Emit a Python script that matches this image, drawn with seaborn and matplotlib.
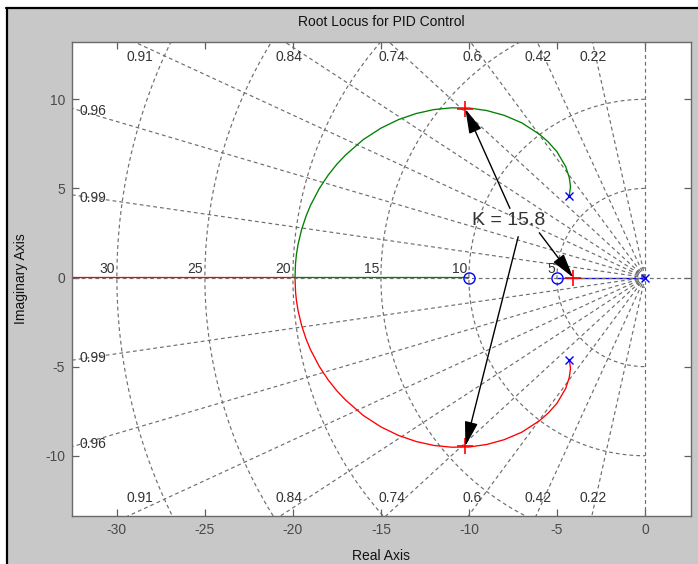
import numpy as np
import matplotlib
matplotlib.use("Agg")
import matplotlib.pyplot as plt
import seaborn as sns
import pandas as pd
from matplotlib.patches import FancyArrowPatch, Rectangle
from matplotlib.lines import Line2D

# ---------------- data ----------------
title_text = "Root Locus for PID Control"
xlabel_text = "Real Axis"
ylabel_text = "Imaginary Axis"

poles_re = [0.0, -4.3, -4.3]
poles_im = [0.0, 4.6, -4.6]
zeros_re = [-5.0, -10.0]
zeros_im = [0.0, 0.0]

# complex branch, upper half (green) and lower half (red)
upper_re = [-4.30, -4.25, -4.23, -4.25, -4.30, -4.50, -5.0, -5.5, -6.0, -7.0, -8.0,
            -9.0, -10.0, -11.0, -12.0, -13.0, -14.0, -15.0, -16.0, -17.0, -17.5, -18.0,
            -18.5, -19.0, -19.25, -19.5, -19.7, -19.8, -19.85, -19.88]
upper_im = [4.60, 4.94, 5.10, 5.26, 5.61, 6.22, 7.06, 7.61, 8.04, 8.68, 9.10,
            9.37, 9.51, 9.52, 9.42, 9.20, 8.86, 8.38, 7.74, 6.88, 6.36, 5.74,
            4.99, 4.05, 3.45, 2.71, 1.89, 1.29, 0.80, 0.0]
lower_re = [-4.30, -4.25, -4.23, -4.25, -4.30, -4.50, -5.0, -5.5, -6.0, -7.0, -8.0,
            -9.0, -10.0, -11.0, -12.0, -13.0, -14.0, -15.0, -16.0, -17.0, -17.5, -18.0,
            -18.5, -19.0, -19.25, -19.5, -19.7, -19.8, -19.85, -19.88]
lower_im = [-4.60, -4.94, -5.10, -5.26, -5.61, -6.22, -7.06, -7.61, -8.04, -8.68, -9.10,
            -9.37, -9.51, -9.52, -9.42, -9.20, -8.86, -8.38, -7.74, -6.88, -6.36, -5.74,
            -4.99, -4.05, -3.45, -2.71, -1.89, -1.29, -0.80, 0.0]

# real-axis segments
blue_re = [0.0, -5.0]
green_tail_re = [-19.88, -10.0]
red_tail_re = [-19.88, -40.0]

# gain point K = 15.8
k_text = "K = 15.8"
k_re = [-10.2, -10.2, -4.08]
k_im = [9.45, -9.45, 0.0]

# grid values
zeta_values = [0.22, 0.42, 0.6, 0.74, 0.84, 0.91, 0.96, 0.99]
zeta_labels = ["0.22", "0.42", "0.6", "0.74", "0.84", "0.91", "0.96", "0.99"]
wn_values = [5, 10, 15, 20, 25, 30]
wn_labels = ["5", "10", "15", "20", "25", "30"]
wn_small = [0.15, 0.55]

xticks = [-30, -25, -20, -15, -10, -5, 0]
yticks = [-10, -5, 0, 5, 10]
xlim = (-32.55, 2.6)
ylim = (-13.38, 13.23)

# ---------------- style ----------------
sns.set_theme(style="white")
plt.rcParams["font.family"] = ["Liberation Sans", "DejaVu Sans"]

W, H = 698, 564
fig = plt.figure(figsize=(W / 100, H / 100), dpi=100, facecolor="white")

# window-like frame: gray panel with black left/top border
fig.patches.append(Rectangle((7 / W, 0), 1 - 7 / W, 1 - 8 / H, transform=fig.transFigure,
                             facecolor="#c8c8c8", edgecolor="none", zorder=-10))
fig.lines.append(Line2D([7 / W, 7 / W], [0, 1 - 7.5 / H], transform=fig.transFigure,
                        color="black", lw=1.6, zorder=-9))
fig.lines.append(Line2D([6 / W, 1], [1 - 7.5 / H, 1 - 7.5 / H], transform=fig.transFigure,
                        color="black", lw=1.6, zorder=-9))

ax = fig.add_axes([72 / W, 1 - 516 / H, 618.7 / W, 474.3 / H])
ax.set_zorder(1)
ax.set_facecolor("white")
ax.set_xlim(*xlim)
ax.set_ylim(*ylim)

gray = "#6e6e6e"
gs = dict(color=gray, lw=0.85, ls=(0, (3.2, 2.6)), zorder=1)

# damping-ratio lines
R = 60.0
for z in zeta_values:
    s = np.sqrt(1 - z * z)
    ax.plot([0, -z * R], [0, s * R], **gs)
    ax.plot([0, -z * R], [0, -s * R], **gs)
ax.plot([0, 0], [-30, 30], **gs)

# natural-frequency semicircles
theta = np.linspace(np.pi / 2, 3 * np.pi / 2, 300)
for w in wn_values + wn_small:
    ax.plot(w * np.cos(theta), w * np.sin(theta), **gs)

# ---------------- locus branches ----------------
green_df = pd.DataFrame({"re": upper_re + green_tail_re[1:], "im": upper_im + [0.0]})
red_df = pd.DataFrame({"re": lower_re + red_tail_re[1:], "im": lower_im + [0.0]})
blue_df = pd.DataFrame({"re": blue_re, "im": [0.0, 0.0]})

sns.lineplot(data=green_df, x="re", y="im", sort=False, estimator=None,
             color="#008000", lw=0.95, ax=ax, zorder=2)
sns.lineplot(data=red_df, x="re", y="im", sort=False, estimator=None,
             color="#ff0000", lw=0.95, ax=ax, zorder=2)
sns.lineplot(data=blue_df, x="re", y="im", sort=False, estimator=None,
             color="#0000ff", lw=0.95, ax=ax, zorder=2)

# real-axis grid line drawn over the locus (as in the reference)
ax.plot([-60, 10], [0, 0], color=gray, lw=0.85, ls=(0, (3.2, 2.6)), zorder=2.5)

# poles / zeros
ax.plot(poles_re, poles_im, ls="none", marker="x", ms=5.5, mew=1.0, color="#0000ff", zorder=3)
ax.plot(zeros_re, zeros_im, ls="none", marker="o", ms=8, mew=1.0, mfc="none",
        mec="#0000ff", zorder=3)
# gain markers
ax.plot(k_re, k_im, ls="none", marker="+", ms=11, mew=1.2, color="#ff0000", zorder=3.5)

# ---------------- grid labels ----------------
lab_color = "#333333"
ytop = 13.07
for z, lab in zip(zeta_values, zeta_labels):
    s = np.sqrt(1 - z * z)
    xt = -z / s * ytop
    if xt > xlim[0] + 1.5:
        ax.text(xt, 12.37, lab, ha="center", va="center", fontsize=10, color=lab_color, zorder=4)
        ax.text(xt, -12.37, lab, ha="center", va="center", fontsize=10, color=lab_color, zorder=4)
    else:
        yl = s / z * (-xlim[0])
        ax.text(xlim[0] + 0.45, yl - 0.15, lab, ha="left", va="center", fontsize=10,
                color=lab_color, zorder=4)
        ax.text(xlim[0] + 0.45, -yl + 0.15, lab, ha="left", va="center", fontsize=10,
                color=lab_color, zorder=4)

for w, lab in zip(wn_values, wn_labels):
    ax.text(-w - 0.1, 0.47, lab, ha="right", va="center", fontsize=10, color=lab_color, zorder=4)

# ---------------- annotation ----------------
ax.text(-7.73, 3.2, k_text, ha="center", va="center", fontsize=14, color="#333333", zorder=5)
tails = [(-7.67, 3.88), (-7.2, 2.29), (-6.0, 2.51)]
for (tx, ty), hx, hy in zip(tails, k_re, k_im):
    arr = FancyArrowPatch((tx, ty), (hx, hy), arrowstyle="-|>,head_length=1.0,head_width=0.27",
                          mutation_scale=15, color="black", lw=1.0, shrinkA=0, shrinkB=0,
                          zorder=5)
    ax.add_patch(arr)

# ---------------- axes styling ----------------
ax.set_xticks(xticks)
ax.set_yticks(yticks)
ax.set_xticklabels([str(t) for t in xticks])
ax.set_yticklabels([str(t) for t in yticks])
ax.tick_params(direction="in", length=5, width=0.9, colors="#606060", labelcolor="#4a4a4a",
               labelsize=10, pad=5, top=True, right=True, bottom=True, left=True)
for sp in ax.spines.values():
    sp.set_color("#6a6a6a")
    sp.set_linewidth(1.0)
    sp.set_visible(True)

ax.set_xlabel(xlabel_text, fontsize=10, color="#111111", va="center")
ax.xaxis.set_label_coords(0.5, -0.0843)
ax.set_ylabel(ylabel_text, fontsize=10, color="#111111", va="center", ha="center")
ax.yaxis.set_label_coords(-0.082, 0.5)

fig.text(381 / W, 1 - 21.5 / H, title_text, ha="center", va="center", fontsize=10, color="#111111")

fig.savefig("out.png", dpi=100, facecolor=fig.get_facecolor())
